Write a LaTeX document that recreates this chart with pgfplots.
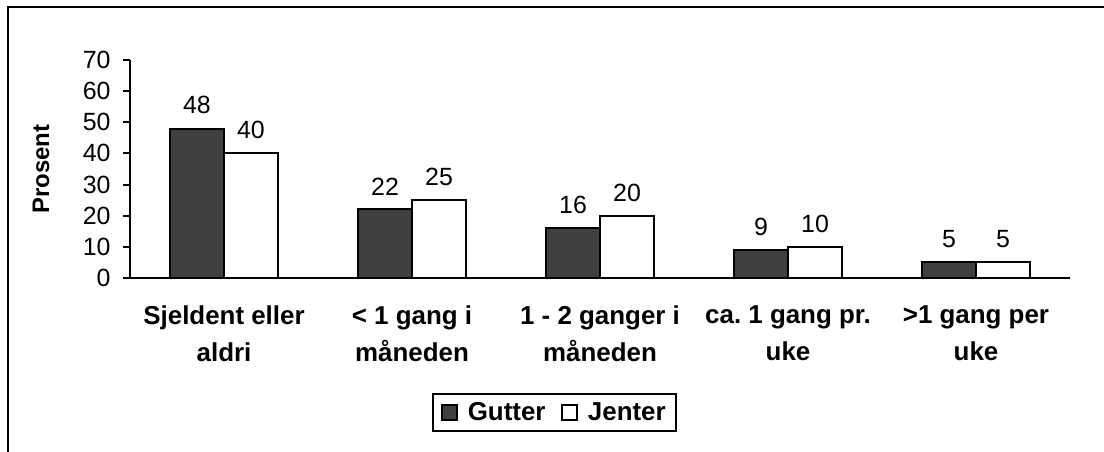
\documentclass[border=0pt]{standalone}
\usepackage{fontspec}
\setmainfont{Liberation Sans}
\usepackage{pgfplots}
\pgfplotsset{compat=1.18}
\definecolor{darkbar}{RGB}{64,64,64}
\frenchspacing
\begin{document}
\begin{tikzpicture}[x=1bp,y=1bp]
\useasboundingbox (0,0) rectangle (1104,452);
% chart frame (only the top and left sides are inside the picture)
\draw[line width=2bp] (7.5,-5) -- (7.5,444.5) -- (1110,444.5);
\begin{axis}[
    at={(130bp,174bp)}, anchor=south west,
    scale only axis, width=940bp, height=218bp,
    ybar=0pt, bar width=54bp,
    xmin=-0.5, xmax=4.5, ymin=0, ymax=70,
    ytick={0,10,...,70},
    xtick={0,1,2,3,4},
    xticklabels={Sjeldent eller\\aldri, < 1 gang i\\måneden, 1 - 2 ganger i\\måneden, ca.\ 1 gang pr.\\uke, >1 gang per\\uke},
    major x tick style={draw=none},
    extra x ticks={-0.5,0.5,1.5,2.5,3.5,4.5},
    extra x tick labels={},
    extra x tick style={major tick length=8bp, tick style={line width=2bp, black}},
    axis lines=left, axis line style={-, line width=2bp},
    tick align=outside, major tick length=7bp,
    tick style={line width=2bp, black},
    /pgf/number format/assume math mode=true,
    yticklabel style={font=\fontsize{25}{28}\selectfont, xshift=-9bp},
    xticklabel style={align=center, font=\bfseries\fontsize{26}{37}\selectfont, yshift=-17bp},
    ylabel={\bfseries Prosent},
    ylabel style={font=\fontsize{24}{28}\selectfont, at={(axis description cs:-0.0947,0.5)}, anchor=center},
    nodes near coords,
    every node near coord/.append style={font=\fontsize{25}{28}\selectfont, yshift=10bp},
    legend columns=-1,
    legend style={at={(0.4516,-0.617)}, anchor=center, draw=black, line width=2bp,
        font=\bfseries\fontsize{26}{30}\selectfont, inner xsep=8bp, inner ysep=7bp,
        /tikz/every odd column/.append style={column sep=8bp},
        /tikz/every even column/.append style={column sep=14bp}},
    legend image code/.code={\draw[#1, line width=1.5bp] (0bp,-7.5bp) rectangle (15bp,7.5bp);},
]
\addplot[fill=darkbar, draw=black, line width=2bp] coordinates {(0,48) (1,22) (2,16) (3,9) (4,5)};
\addplot[fill=white, draw=black, line width=2bp] coordinates {(0,40) (1,25) (2,20) (3,10) (4,5)};
\legend{Gutter, Jenter}
\end{axis}
\end{tikzpicture}
\end{document}
